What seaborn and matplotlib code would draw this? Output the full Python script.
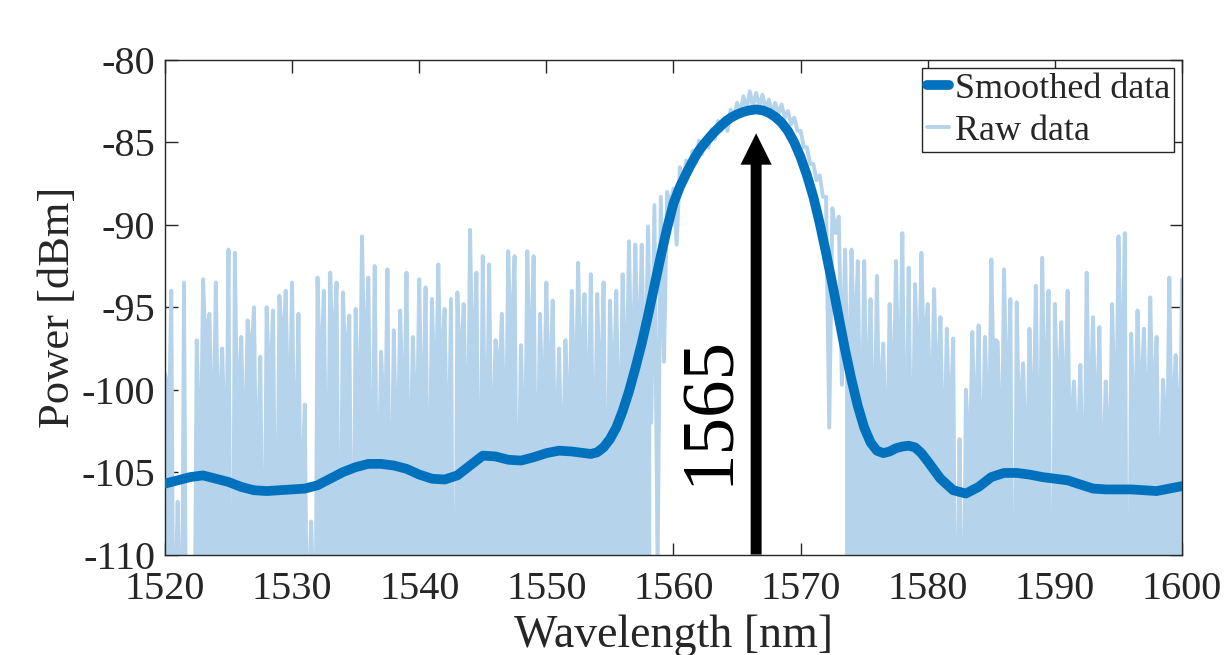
#!/usr/bin/env python3

import matplotlib
matplotlib.use("Agg")
import matplotlib.pyplot as plt
import numpy as np
import pandas as pd
import seaborn as sns


FIGSIZE = (12.3, 6.55)
DPI = 100

SMOOTH_COLOR = "#0072BD"
RAW_COLOR = "#B5D3EB"
AXIS_COLOR = "#262626"

wavelength_ticks = [1520, 1530, 1540, 1550, 1560, 1570, 1580, 1590, 1600]
power_ticks = [-110, -105, -100, -95, -90, -85, -80]

# smoothed trace: 1 nm steps on the flat parts, 0.5 nm over the peak
smooth_wavelength = (
    list(range(1520, 1553))
    + [1553 + 0.5 * k for k in range(54)]
    + list(range(1580, 1601))
)
smooth_power = [
    # 1520 .. 1552
    -105.7, -105.5, -105.3, -105.2, -105.4, -105.6, -105.9, -106.1, -106.15, -106.1,
    -106.05, -106.0, -105.8, -105.4, -105.0, -104.7, -104.5, -104.5, -104.6, -104.8,
    -105.15, -105.4, -105.45, -105.2, -104.6, -104.0, -104.05, -104.25, -104.3, -104.1,
    -103.85, -103.7, -103.75,
    # 1553 .. 1579.5
    -103.85, -103.9, -103.8, -103.5, -103.0, -102.3, -101.3, -100.1, -98.7, -97.2,
    -95.5, -93.7, -91.9, -90.2, -88.7, -87.7, -86.9, -86.15, -85.5, -85.0,
    -84.55, -84.15, -83.8, -83.5, -83.3, -83.15, -83.05, -83.0, -83.05, -83.2,
    -83.45, -83.8, -84.3, -85.0, -85.9, -87.0, -88.3, -89.9, -91.7, -93.6,
    -95.6, -97.6, -99.4, -101.0, -102.3, -103.2, -103.7, -103.85, -103.75, -103.55,
    -103.45, -103.4, -103.5, -103.85,
    # 1580 .. 1600
    -104.35, -105.4, -106.1, -106.3, -105.9, -105.3, -105.05, -105.05, -105.15, -105.3,
    -105.4, -105.5, -105.75, -106.0, -106.05, -106.05, -106.05, -106.1, -106.15, -106.0,
    -105.85,
]

# raw trace: local tops every 0.5 nm (1520 ... 1600)
raw_peak_power = [
    -99.0, -94.0, -106.8, -93.5, -111.0, -97.0, -93.3, -95.4, -93.5, -97.5,
    -91.5, -91.7, -96.8, -95.8, -95.0, -98.0, -95.0, -95.2, -94.3, -94.0,
    -93.5, -95.4, -100.9, -108.0, -93.2, -94.0, -92.9, -93.5, -94.1, -95.5,
    -95.1, -90.7, -93.2, -92.5, -97.7, -92.7, -96.4, -95.2, -92.9, -96.8,
    -93.3, -93.8, -94.5, -92.4, -95.1, -94.5, -94.1, -94.8, -90.3, -92.9,
    -91.9, -92.4, -97.0, -95.4, -91.6, -91.9, -97.3, -91.6, -91.9, -95.4,
    -93.5, -94.6, -97.5, -97.0, -94.0, -92.3, -94.2, -93.0, -94.2, -93.5,
    -94.6, -94.0, -93.0, -91.0, -91.2, -91.2, -90.1, -88.8, -88.3, -88.0,
    -87.8, -86.5, -86.1, -85.5, -84.9, -84.8, -84.2, -83.7, -83.5, -83.0,
    -82.6, -82.2, -81.9, -82.0, -82.1, -82.4, -82.6, -82.7, -83.1, -83.5,
    -84.3, -85.3, -86.3, -87.0, -88.3, -89.0, -89.5, -91.5, -91.5, -92.2,
    -92.2, -94.5, -93.1, -97.2, -94.8, -92.2, -90.5, -92.6, -93.6, -91.7,
    -94.8, -93.9, -95.6, -96.3, -96.9, -103.0, -100.0, -96.5, -96.1, -96.8,
    -92.1, -97.1, -92.7, -94.5, -94.7, -98.4, -96.3, -93.7, -92.0, -94.0,
    -94.8, -95.9, -94.0, -99.5, -98.5, -92.9, -95.6, -96.2, -99.5, -94.8,
    -90.7, -90.5, -96.6, -95.2, -96.3, -94.4, -96.8, -99.4, -93.2, -97.9,
    -93.3,
]

# raw trace: local bottoms between the tops (one per gap)
raw_dip_power = [
    -99.5, -111, -111, -111, -111, -101, -96, -100, -100, -101,
    -111, -99, -101, -97, -102, -107, -98, -105.2, -96, -99,
    -101, -104, -111, -111, -97, -102, -96, -106.5, -97, -107,
    -99, -96, -102, -103, -100, -104, -101, -99, -102, -100,
    -99, -103, -98, -97, -101, -111, -97, -100, -96, -103,
    -100, -101, -98, -100, -95, -104, -101, -96, -102, -99,
    -98, -101, -102, -100, -98, -97, -99, -101, -98, -103,
    -98, -100, -97, -96, -95.5, -96, -102, -111, -98.3, -88.8,
    -91.2, -87.5, -86.8, -86.3, -85.7, -85.3, -84.8, -84.3, -84.3, -83.6,
    -83.2, -83.0, -82.8, -82.8, -83.0, -83.2, -83.3, -83.5, -83.9, -84.3,
    -85.3, -86.3, -87.3, -88.3, -102.3, -90.5, -99.7, -97, -95, -99,
    -98, -100, -99, -101, -98, -97, -100, -101, -97, -96,
    -99, -98, -101, -100, -111, -111, -102, -100, -102, -100,
    -97, -101, -98, -111, -100, -102, -100, -101, -98, -111,
    -99, -99, -101, -102, -103, -99, -100, -103, -102, -99,
    -96, -111, -100, -99, -100, -99, -104, -101, -100, -101,
]

# where the raw trace sits in the noise floor (filled down to the axis)
noise_spans = [(1520, 1558.25), (1573.5, 1600)]

peak_label = "1565"
peak_arrow_x = 1566.5
peak_arrow_tip = -84.45


def in_noise(x):
    return any(lo <= x <= hi for lo, hi in noise_spans)


def raw_frame():
    # in the noise floor each dip gets a short flat bottom so spikes stand upright
    n = len(raw_peak_power)
    tops = np.linspace(1520, 1600, n)
    wl, pw = [], []
    for k in range(n):
        wl.append(tops[k])
        pw.append(raw_peak_power[k])
        if k == n - 1:
            break
        if in_noise(tops[k]) and in_noise(tops[k + 1]):
            wl += [tops[k] + 0.12, tops[k] + 0.38]
            pw += [raw_dip_power[k], raw_dip_power[k]]
        else:
            wl.append(tops[k] + 0.25)
            pw.append(raw_dip_power[k])
    return pd.DataFrame({"wavelength": wl, "power": pw})


def plot_spectrum(output_png):
    sns.set_theme(style="white")
    plt.rcParams["font.family"] = ["Liberation Serif", "DejaVu Serif"]
    plt.rcParams["axes.unicode_minus"] = False

    raw = raw_frame()
    smooth = pd.DataFrame({"wavelength": smooth_wavelength, "power": smooth_power})

    fig, ax = plt.subplots(figsize=FIGSIZE, dpi=DPI)
    fig.subplots_adjust(left=0.1341, right=0.961, bottom=0.1534, top=0.9084)

    mask = raw["wavelength"].map(in_noise).to_numpy()
    ax.fill_between(raw["wavelength"], raw["power"], -115, where=mask,
                    color=RAW_COLOR, lw=0, zorder=1)

    sns.lineplot(data=raw, x="wavelength", y="power", ax=ax, sort=False,
                 color=RAW_COLOR, linewidth=2.8, zorder=2)
    raw_line = ax.lines[-1]
    sns.lineplot(data=smooth, x="wavelength", y="power", ax=ax,
                 color=SMOOTH_COLOR, linewidth=7.0, zorder=3)
    smooth_line = ax.lines[-1]
    smooth_line.set_solid_joinstyle("round")

    ax.arrow(peak_arrow_x, -110, 0, peak_arrow_tip + 110, width=0.86,
             head_width=2.45, head_length=1.9, length_includes_head=True,
             fc="black", ec="black", lw=0, zorder=5)
    ax.text(1562.85, -101.25, peak_label, rotation=90, ha="center",
            va="center", fontsize=54, color="black", zorder=6)

    ax.set_xlim(1520, 1600)
    ax.set_ylim(-110, -80)
    ax.set_xticks(wavelength_ticks)
    ax.set_yticks(power_ticks)
    ax.tick_params(direction="in", length=9, width=1.0, colors=AXIS_COLOR,
                   labelcolor="#262626", labelsize=29,
                   top=True, right=True, bottom=True, left=True)
    ax.tick_params(axis="x", pad=12)
    ax.tick_params(axis="y", pad=7)
    for spine in ax.spines.values():
        spine.set_color(AXIS_COLOR)
        spine.set_linewidth(1.0)

    ax.set_xlabel("Wavelength [nm]", fontsize=33, color="#262626")
    ax.set_ylabel("Power [dBm]", fontsize=32, color="#262626")
    ax.xaxis.set_label_coords(0.5, -0.122)
    ax.yaxis.set_label_coords(-0.085, 0.5)

    leg = ax.legend(handles=[smooth_line, raw_line],
                    labels=["Smoothed data", "Raw data"],
                    loc="upper right", fontsize=26, frameon=True,
                    fancybox=False, framealpha=1, edgecolor=AXIS_COLOR,
                    borderpad=0.12, labelspacing=0.25, handlelength=0.62,
                    handletextpad=0.15, borderaxespad=0.22)
    leg.get_frame().set_linewidth(1.0)
    leg.set_zorder(10)

    fig.savefig(output_png, dpi=DPI)
    plt.close(fig)


if __name__ == "__main__":
    plot_spectrum("out.png")
